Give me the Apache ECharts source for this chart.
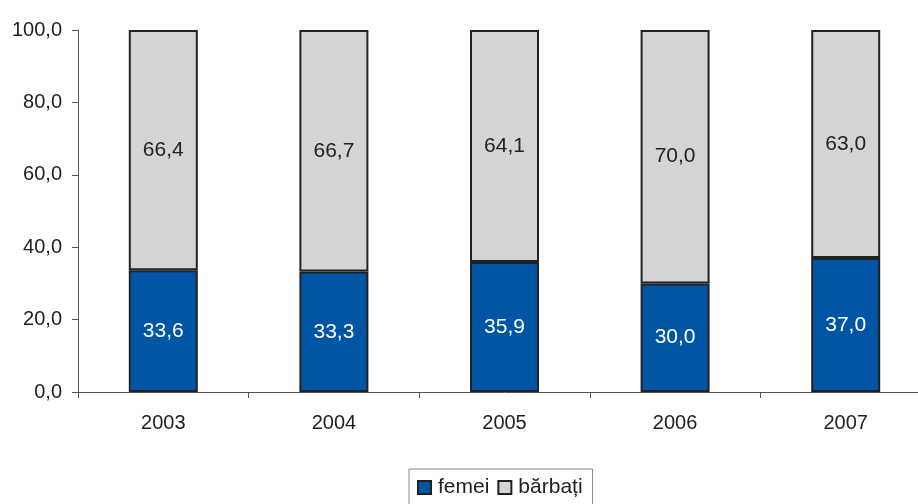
<!DOCTYPE html>
<html>
<head>
<meta charset="utf-8">
<script src="https://cdn.jsdelivr.net/npm/echarts@6/dist/echarts.min.js"></script>
<style>
    html, body { margin: 0; padding: 0; background: #fff; overflow: hidden; }
    #chart { width: 931px; height: 504px; }
</style>
</head>
<body>
<div id="chart"></div>
<script>
    // ani
    const years = ['2003', '2004', '2005', '2006', '2007'];
    const femei = [33.6, 33.3, 35.9, 30.0, 37.0];
    const barbati = [66.4, 66.7, 64.1, 70.0, 63.0];

    const fmt = v => v.toFixed(1).replace('.', ',');
    const font = 'Liberation Sans';

    let chart = echarts.init(document.getElementById('chart'));
    chart.setOption({
        animation: false,
        textStyle: { fontFamily: font },
        grid: { left: 78, top: 30, right: 0, height: 362 },
        legend: {
            left: 409,
            top: 469,
            padding: [8, 10, 10, 8],
            itemGap: 8,
            itemWidth: 13,
            itemHeight: 13,
            borderColor: '#888',
            borderWidth: 1,
            textStyle: { fontSize: 21, color: '#222', fontFamily: font, padding: [0, 0, 0, 2] },
            data: [
                { name: 'femei', icon: 'rect' },
                { name: 'bărbați', icon: 'rect' }
            ]
        },
        xAxis: {
            type: 'category',
            data: years,
            axisLine: { lineStyle: { color: '#555', width: 1 } },
            axisTick: { show: true, length: 6, lineStyle: { color: '#555' } },
            axisLabel: { fontSize: 20, color: '#222', margin: 21, fontFamily: font }
        },
        yAxis: {
            type: 'value',
            min: 0,
            max: 100,
            interval: 20,
            axisLine: { show: true, lineStyle: { color: '#555', width: 1 } },
            axisTick: { show: true, length: 6, lineStyle: { color: '#555' } },
            splitLine: { show: false },
            axisLabel: { fontSize: 20, color: '#222', margin: 16, fontFamily: font, formatter: v => fmt(v) }
        },
        series: [
            {
                name: 'femei',
                type: 'bar',
                stack: 'total',
                barWidth: 69,
                data: femei,
                itemStyle: { color: '#0055A5', borderColor: '#222', borderWidth: 2 },
                label: {
                    show: true,
                    position: 'inside',
                    color: '#fff',
                    fontSize: 21,
                    fontFamily: font,
                    formatter: p => fmt(p.value)
                }
            },
            {
                name: 'bărbați',
                type: 'bar',
                stack: 'total',
                barWidth: 69,
                data: barbati,
                itemStyle: { color: '#D4D4D4', borderColor: '#222', borderWidth: 2 },
                label: {
                    show: true,
                    position: 'inside',
                    color: '#222',
                    fontSize: 21,
                    fontFamily: font,
                    formatter: p => fmt(p.value)
                }
            }
        ]
    });
</script>
</body>
</html>
